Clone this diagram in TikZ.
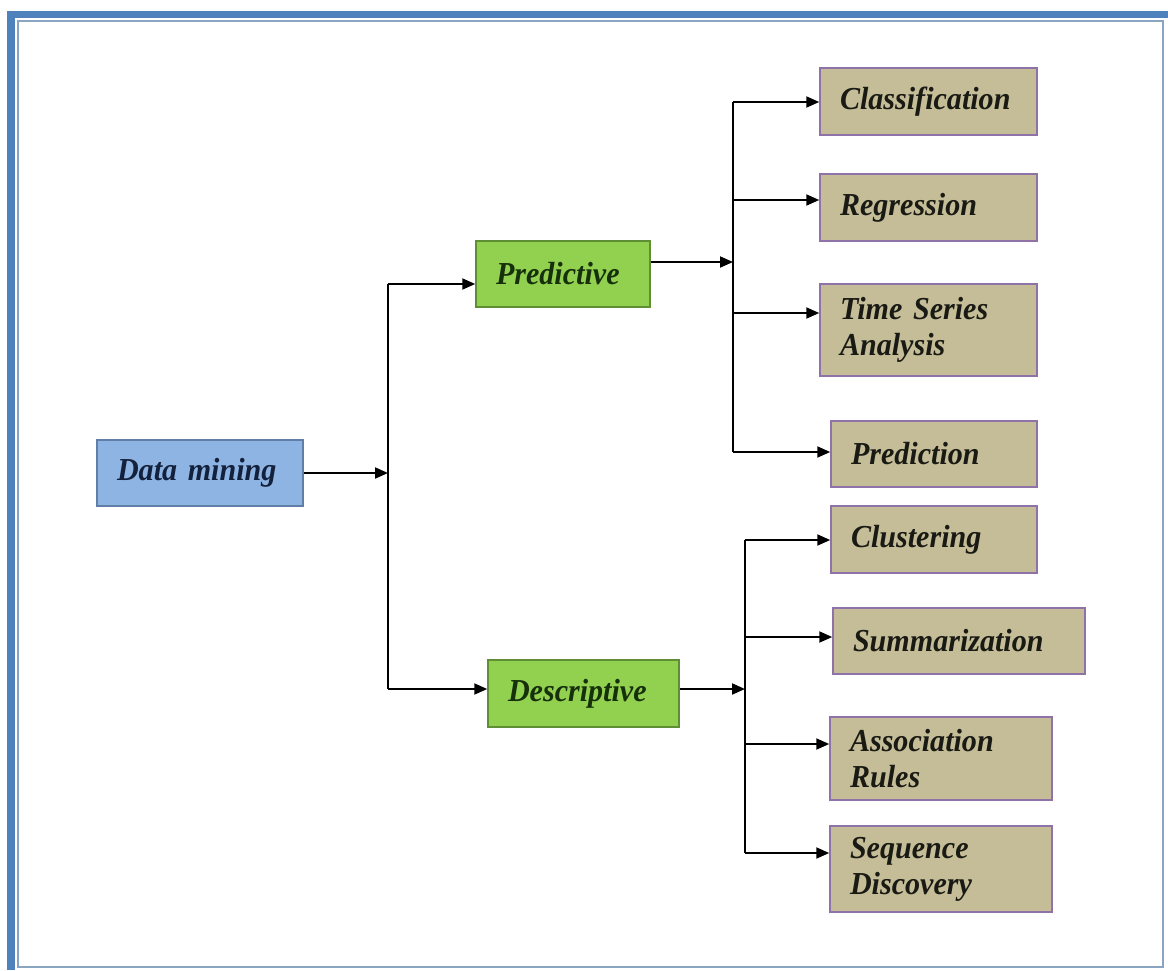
\documentclass[tikz,border=0pt]{standalone}
\usepackage{fontspec}
\setmainfont{Liberation Serif}[FakeStretch=0.94]
\usetikzlibrary{arrows.meta}
\hyphenpenalty=10000
\exhyphenpenalty=10000
\definecolor{frameblue}{HTML}{4F81BD}
\definecolor{frameline}{HTML}{8AA5C2}
\definecolor{dmfill}{HTML}{8DB4E2}
\definecolor{dmdraw}{HTML}{5F7FA8}
\definecolor{grfill}{HTML}{92D050}
\definecolor{grdraw}{HTML}{5F8F35}
\definecolor{tanfill}{HTML}{C4BD97}
\definecolor{tandraw}{HTML}{8E72A8}
\definecolor{dmtext}{HTML}{14213D}
\definecolor{grtext}{HTML}{16300C}
\definecolor{tantext}{HTML}{1A1A14}
\tikzset{
  box/.style={draw, line width=1.5pt, inner sep=0pt, align=left,
    font=\fontsize{32}{36}\selectfont\bfseries\itshape},
  dmbox/.style={box, fill=dmfill, draw=dmdraw, text=dmtext},
  grbox/.style={box, fill=grfill, draw=grdraw, text=grtext},
  tanbox/.style={box, fill=tanfill, draw=tandraw, text=tantext},
  conn/.style={line width=2pt, black},
  arr/.style={conn, -{Triangle[length=13pt,width=11pt]}}
}
\begin{document}
\begin{tikzpicture}[x=1pt,y=-1pt]
\useasboundingbox (0,0) rectangle (1168,970);
\fill[white] (0,0) rectangle (1168,970);
% frame
\fill[frameblue] (7,11) rectangle (1168,18);
\fill[frameblue] (7,11) rectangle (15,970);
\draw[frameline, line width=2.5pt] (18,21) -- (1163,21) -- (1163,967) -- (18,967) -- cycle;
% boxes
\node[dmbox, minimum width=206, minimum height=66, text width=166] (dm) at (200,473) {Data mining};
\node[grbox, minimum width=174, minimum height=66, text width=134] (pred) at (563,274) {Predictive};
\node[grbox, minimum width=191, minimum height=67, text width=151] (desc) at (583.5,693.5) {Descriptive};
\node[tanbox, minimum width=217, minimum height=67, text width=177] (cls) at (928.5,101.5) {Classification};
\node[tanbox, minimum width=217, minimum height=67, text width=177] (reg) at (928.5,207.5) {Regression};
\node[tanbox, minimum width=217, minimum height=92, text width=177] (tsa) at (928.5,330) {Time Series\\Analysis};
\node[tanbox, minimum width=206, minimum height=66, text width=166] (prd) at (934,454) {Prediction};
\node[tanbox, minimum width=206, minimum height=67, text width=166] (clu) at (934,539.5) {Clustering};
\node[tanbox, minimum width=252, minimum height=66, text width=212] (sum) at (959,641) {Summarization};
\node[tanbox, minimum width=222, minimum height=83, text width=182] (asr) at (941,758.5) {Association\\Rules};
\node[tanbox, minimum width=222, minimum height=86, text width=182] (seq) at (941,869) {Sequence\\Discovery};
% junction coordinates
\coordinate (j0) at (388,473);
\coordinate (jp) at (388,284);
\coordinate (jd) at (388,689);
\coordinate (k0) at (733,262);
\coordinate (k1) at (733,102);
\coordinate (k2) at (733,200);
\coordinate (k3) at (733,313);
\coordinate (k4) at (733,452);
\coordinate (m0) at (745,689);
\coordinate (m1) at (745,540);
\coordinate (m2) at (745,637);
\coordinate (m3) at (745,744);
\coordinate (m4) at (745,853);
% connectors
\draw[conn] (jp) -- (jd);
\draw[arr] (dm.east |- j0) -- (j0);
\draw[arr] (jp) -- (jp -| pred.west);
\draw[arr] (jd) -- (jd -| desc.west);
\draw[conn] (k1) -- (k4);
\draw[arr] (pred.east |- k0) -- (k0);
\draw[arr] (k1) -- (k1 -| cls.west);
\draw[arr] (k2) -- (k2 -| reg.west);
\draw[arr] (k3) -- (k3 -| tsa.west);
\draw[arr] (k4) -- (k4 -| prd.west);
\draw[conn] (m1) -- (m4);
\draw[arr] (desc.east |- m0) -- (m0);
\draw[arr] (m1) -- (m1 -| clu.west);
\draw[arr] (m2) -- (m2 -| sum.west);
\draw[arr] (m3) -- (m3 -| asr.west);
\draw[arr] (m4) -- (m4 -| seq.west);
\end{tikzpicture}
\end{document}
